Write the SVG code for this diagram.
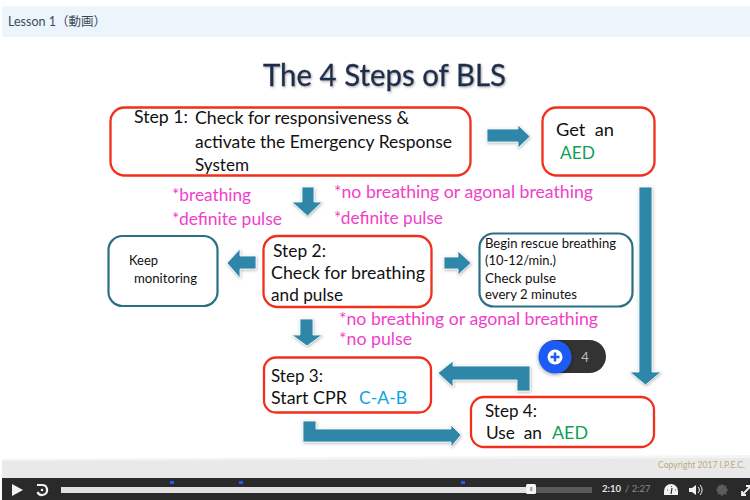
<svg xmlns="http://www.w3.org/2000/svg" width="750" height="500" viewBox="0 0 750 500">
  <style>
    text { font-family: "Lato", "Noto Sans", "Noto Sans CJK JP", sans-serif; fill: #111; }
    .red { fill: #fff; stroke: #f0301c; stroke-width: 2.300; }
    .teal { fill: #fff; stroke: #2b6f86; stroke-width: 2.200; }
    .t17 { font-size: 17.5px; }
    .t12 { font-size: 13px; }
    .pink { font-size: 17.5px; fill: #f040c8; }
    .green { fill: #0f9f5a; }
    .blue { fill: #0ea4e2; }
    .arrow { fill: #2f87a9; stroke: #fff; stroke-width: 0.800; filter: url(#soft); }
  </style>
  <defs>
    <filter id="soft" x="-30%" y="-30%" width="160%" height="160%">
      <feDropShadow dx="0.5" dy="1" stdDeviation="1.500" flood-color="#666" flood-opacity="0.5"/>
    </filter>
    <filter id="titleShade" x="-5%" y="-20%" width="110%" height="140%">
      <feDropShadow dx="1" dy="1.2" stdDeviation="0.9" flood-color="#777" flood-opacity="0.6"/>
    </filter>
    <filter id="badgeShade" x="-30%" y="-30%" width="160%" height="160%">
      <feDropShadow dx="0" dy="1" stdDeviation="2" flood-color="#000" flood-opacity="0.4"/>
    </filter>
  </defs>

  <rect width="750" height="500" fill="#fff"/>

  <!-- Lesson header -->
  <g id="header">
    <rect x="2" y="6" width="760" height="31" rx="3" fill="#edf5fc"/>
    <text x="8" y="26" font-size="12.5" style="fill:#3b4a5a">Lesson 1（動画）</text>
  </g>

  <text id="title" x="263" y="86" font-size="30" textLength="243" lengthAdjust="spacingAndGlyphs" stroke="#1f2d4d" stroke-width="0.300" filter="url(#titleShade)" style="fill:#1f2d4d">The 4 Steps of BLS</text>

  <!-- Connectors -->
  <g id="connectors">
    <path class="arrow" d="M487 129H518V125L530 136.500L518 148V142H487Z"/>
    <path class="arrow" d="M302 187H314V202H322L307.500 216L292 202H302Z"/>
    <path class="arrow" d="M639 187H652V372H661L645.500 385L630 372H639Z"/>
    <path class="arrow" d="M256 256V269H240V278L227 263L240 249V256Z"/>
    <path class="arrow" d="M444 257H458V251L471 263L458 275V269H444Z"/>
    <path class="arrow" d="M300 319H313V335H322L307 346L292 335H300Z"/>
    <path class="arrow" d="M530 391V366H453V361L438 373L453 387V380H517V391Z"/>
    <path class="arrow" d="M303 421H316V429H451V425L461 435L451 447V442H303Z"/>
  </g>

  <g id="step1">
    <rect class="red" x="110.500" y="107.500" width="360" height="68" rx="14"/>
    <text class="t17" x="134" y="123" textLength="54" lengthAdjust="spacingAndGlyphs">Step 1:</text>
    <text class="t17" x="195" y="124" textLength="214" lengthAdjust="spacingAndGlyphs">Check for responsiveness &amp;</text>
    <text class="t17" x="195" y="148" textLength="257" lengthAdjust="spacingAndGlyphs">activate the Emergency Response</text>
    <text class="t17" x="195" y="171" textLength="54" lengthAdjust="spacingAndGlyphs">System</text>
  </g>

  <g id="get-aed">
    <rect class="red" x="542.500" y="107.500" width="112" height="68" rx="14"/>
    <text class="t17" x="556" y="136" textLength="58" lengthAdjust="spacingAndGlyphs" xml:space="preserve">Get  an</text>
    <text class="t17 green" x="560" y="159" textLength="35" lengthAdjust="spacingAndGlyphs">AED</text>
  </g>

  <g id="criteria-upper">
    <text class="pink" x="172" y="201" textLength="79" lengthAdjust="spacingAndGlyphs">*breathing</text>
    <text class="pink" x="172" y="225" textLength="110" lengthAdjust="spacingAndGlyphs">*definite pulse</text>
    <text class="pink" x="334" y="198" textLength="259" lengthAdjust="spacingAndGlyphs">*no breathing or agonal breathing</text>
    <text class="pink" x="334" y="224" textLength="109" lengthAdjust="spacingAndGlyphs">*definite pulse</text>
  </g>

  <g id="keep-monitoring">
    <rect class="teal" x="108.500" y="236" width="109" height="70" rx="14"/>
    <text class="t12" x="129" y="265" textLength="29" lengthAdjust="spacingAndGlyphs">Keep</text>
    <text class="t12" x="134" y="283" textLength="63" lengthAdjust="spacingAndGlyphs">monitoring</text>
  </g>

  <g id="step2">
    <rect class="red" x="263.500" y="236" width="168" height="71" rx="14"/>
    <text class="t17" x="273" y="257" textLength="53" lengthAdjust="spacingAndGlyphs">Step 2:</text>
    <text class="t17" x="271" y="279" textLength="154" lengthAdjust="spacingAndGlyphs">Check for breathing</text>
    <text class="t17" x="271" y="301" textLength="72" lengthAdjust="spacingAndGlyphs">and pulse</text>
  </g>

  <g id="rescue-breathing">
    <rect class="teal" x="479.500" y="233.500" width="153" height="73" rx="14"/>
    <text class="t12" x="485" y="248" textLength="131" lengthAdjust="spacingAndGlyphs">Begin rescue breathing</text>
    <text class="t12" x="485" y="265" textLength="71" lengthAdjust="spacingAndGlyphs">(10-12/min.)</text>
    <text class="t12" x="485" y="283" textLength="71" lengthAdjust="spacingAndGlyphs">Check pulse</text>
    <text class="t12" x="485" y="299" textLength="92" lengthAdjust="spacingAndGlyphs">every 2 minutes</text>
  </g>

  <g id="criteria-lower">
    <text class="pink" x="339" y="325" textLength="259" lengthAdjust="spacingAndGlyphs">*no breathing or agonal breathing</text>
    <text class="pink" x="339" y="345" textLength="73" lengthAdjust="spacingAndGlyphs">*no pulse</text>
  </g>

  <g id="step3">
    <rect class="red" x="264" y="357.500" width="167" height="55" rx="12"/>
    <text class="t17" x="271" y="382" textLength="52" lengthAdjust="spacingAndGlyphs">Step 3:</text>
    <text class="t17" x="271" y="404" textLength="76" lengthAdjust="spacingAndGlyphs">Start CPR</text>
    <text class="t17 blue" x="359" y="404" textLength="48" lengthAdjust="spacingAndGlyphs">C-A-B</text>
  </g>

  <g id="step4">
    <rect class="red" x="471" y="397" width="183" height="50" rx="13"/>
    <text class="t17" x="485" y="417" textLength="52" lengthAdjust="spacingAndGlyphs">Step 4:</text>
    <text class="t17" x="486" y="439" textLength="56" lengthAdjust="spacingAndGlyphs" xml:space="preserve">Use  an</text>
    <text class="t17 green" x="552" y="439" textLength="36" lengthAdjust="spacingAndGlyphs">AED</text>
  </g>

  <!-- Note counter badge -->
  <g id="note-badge">
    <rect x="539" y="340" width="67" height="33" rx="16.500" fill="#333"/>
    <circle cx="555" cy="357" r="16.500" fill="#1f5bf5" filter="url(#badgeShade)"/>
    <circle cx="555" cy="357" r="7.500" fill="#fff"/>
    <path d="M555 352.500V361.500M550.500 357H559.500" stroke="#1f5bf5" stroke-width="2.500"/>
    <text x="585" y="362" font-size="13" text-anchor="middle" style="fill:#bdbdbd">4</text>
  </g>

  <!-- Slide footer -->
  <g id="slide-footer">
    <path d="M2 459L750 455V478H2Z" fill="#f4f4f4"/>
    <path d="M2 461L750 458V478H2Z" fill="#e9e9e9"/>
    <text x="658" y="468" font-size="9" textLength="87" lengthAdjust="spacingAndGlyphs" style="fill:#bda981">Copyright 2017 I.P.E.C.</text>
  </g>

  <!-- Player controls -->
  <g id="player">
    <rect x="2" y="478" width="748" height="22" fill="#2a2a2a"/>
    <path d="M12 484L23 490L12 496Z" fill="#f2f2f2"/>
    <path d="M37 485H42A5 5 0 1 1 37.500 492" fill="none" stroke="#f2f2f2" stroke-width="2.200"/>
    <circle cx="42" cy="490" r="1.300" fill="#f2f2f2"/>
    <rect x="61" y="487" width="471" height="6" fill="#e2e2e2"/>
    <rect x="532" y="487" width="60" height="6" fill="#5a5a5a"/>
    <rect x="526" y="484" width="10" height="10" rx="1.500" fill="#f4f4f4"/>
    <rect x="530" y="487" width="2.500" height="4" fill="#aaa"/>
    <rect x="170" y="481" width="4" height="3" fill="#1f5bf5"/>
    <rect x="239" y="481" width="4" height="3" fill="#1f5bf5"/>
    <rect x="461" y="481" width="4" height="3" fill="#1f5bf5"/>
    <text x="602" y="492" font-size="9.500" font-weight="700" style="fill:#e4e4e4">2:10</text>
    <text x="625" y="492" font-size="9.500" style="fill:#8a8a8a">/ 2:27</text>
    <path d="M664 495V491A7 7 0 0 1 678 491V495Z" fill="#f2f2f2"/>
    <path d="M671 494L672 488M667 490H667.800M675 490H675.800M671 486.500H671.800" stroke="#2a2a2a" stroke-width="1.200"/>
    <path d="M689 488H692L696 485V495L692 492H689Z" fill="#f2f2f2"/>
    <path d="M698 487A4 4 0 0 1 698 493M700 485A7 7 0 0 1 700 495" fill="none" stroke="#f2f2f2" stroke-width="1"/>
    <circle cx="722" cy="490" r="3.500" fill="none" stroke="#5c5c5c" stroke-width="3"/>
    <path d="M722 484V496M716 490H728M717.800 485.800L726.200 494.200M726.200 485.800L717.800 494.200" stroke="#5c5c5c" stroke-width="1.400"/>
    <path d="M742 495L750 487M742 491V495H746M746 486H750" fill="none" stroke="#f2f2f2" stroke-width="1.800"/>
  </g>
</svg>
